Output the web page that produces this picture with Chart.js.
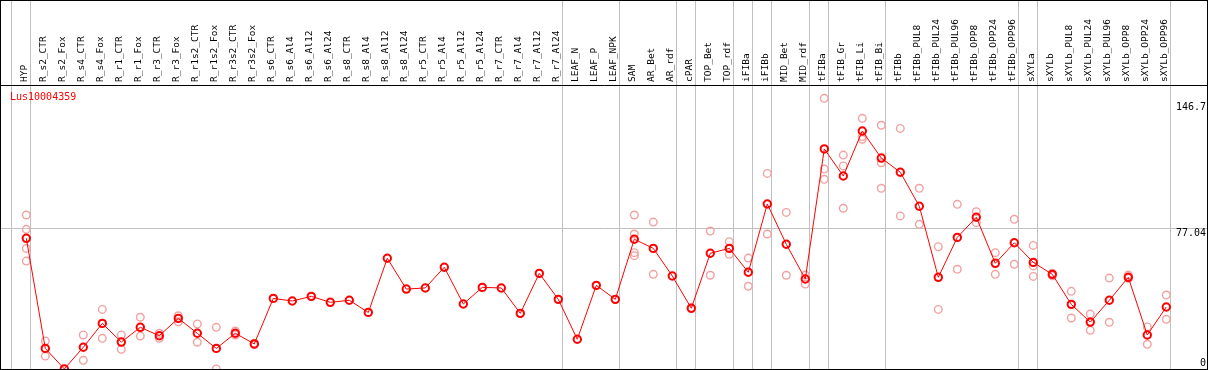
<!DOCTYPE html>
<html>
<head>
<meta charset="utf-8">
<script src="https://cdn.jsdelivr.net/npm/chart.js@4/dist/chart.umd.min.js"></script>
<style>
  html, body { margin: 0; padding: 0; background: #fff; }
  #wrap { width: 1209px; height: 370px; }
</style>
</head>
<body>
<div id="wrap"><canvas id="graph1"></canvas></div>
<script>
var seriesName = "Lus10004359";

var categories = ["HYP", "R_s2_CTR", "R_s2_Fox", "R_s4_CTR", "R_s4_Fox", "R_r1_CTR", "R_r1_Fox",
  "R_r3_CTR", "R_r3_Fox", "R_r1s2_CTR", "R_r1s2_Fox", "R_r3s2_CTR", "R_r3s2_Fox", "R_s6_CTR",
  "R_s6_Al4", "R_s6_Al12", "R_s6_Al24", "R_s8_CTR", "R_s8_Al4", "R_s8_Al12", "R_s8_Al24",
  "R_r5_CTR", "R_r5_Al4", "R_r5_Al12", "R_r5_Al24", "R_r7_CTR", "R_r7_Al4", "R_r7_Al12",
  "R_r7_Al24", "LEAF_N", "LEAF_P", "LEAF_NPK", "SAM", "AR_Bet", "AR_rdf", "cPAR", "TOP_Bet",
  "TOP_rdf", "iFIBa", "iFIBb", "MID_Bet", "MID_rdf", "tFIBa", "tFIB_Gr", "tFIB_Li", "tFIB_Bi",
  "tFIBb", "tFIBb_PUL8", "tFIBb_PUL24", "tFIBb_PUL96", "tFIBb_OPP8", "tFIBb_OPP24", "tFIBb_OPP96",
  "sXYLa", "sXYLb", "sXYLb_PUL8", "sXYLb_PUL24", "sXYLb_PUL96", "sXYLb_OPP8", "sXYLb_OPP24",
  "sXYLb_OPP96"];

// mean expression per sample (line)
var means = [71.7, 12.7, 1.7, 13.3, 26.1, 16.1, 24.0, 19.5, 28.8, 20.8, 12.7, 20.8, 15.1,
  39.5, 38.1, 40.6, 37.4, 38.5, 32.0, 61.0, 44.5, 45.1, 56.2, 36.5, 45.4, 45.1, 31.5, 52.9, 39.0,
  17.6, 46.5, 39.0,
  71.2, 66.3, 51.5, 34.2, 63.7, 66.3, 53.5, 90.1, 68.5, 49.9,
  119.6, 105.1, 129.2, 114.7, 107.1, 88.9, 50.8, 72.2, 83.0, 58.3, 69.3,
  58.8, 52.4, 36.3, 26.8, 38.5, 50.8, 19.9, 34.9];

// single replicates per sample (light circles)
var replicates = [
  [84.2, 76.5, 66.3, 59.5], [16.7, 8.6], [], [19.9, 6.3], [33.6, 18.1], [19.9, 12.2], [29.4, 19.3],
  [18.1, 20.8], [30.2, 27.0], [25.8, 16.0], [24.0, 1.7], [22.0, 19.9], [15.5, 14.7], [],
  [], [], [], [], [], [], [],
  [], [], [], [], [], [], [],
  [], [], [], [],
  [84.2, 74.0, 64.0, 62.4], [80.4, 52.4], [], [34.5, 33.9], [75.6, 51.9], [69.9, 63.1],
  [61.1, 46.0], [106.5, 74.0], [85.6, 51.9], [52.0, 47.2],
  [146.7, 108.8, 103.3], [116.3, 110.5, 87.8], [136.0, 126.2, 124.8], [132.3, 112.2, 98.5],
  [130.6, 83.7], [98.5, 79.2], [67.2, 33.6], [89.9, 55.1], [86.0, 80.1], [64.0, 52.4], [81.9, 57.8],
  [67.9, 56.9, 51.3], [53.0, 51.6], [43.3, 29.0], [31.1, 22.4], [50.4, 26.7], [52.0, 50.3],
  [24.2, 14.9], [41.3, 28.3]
];

// y axis labels, and the one horizontal grid line
var yLabels = [146.7, 77.04, 0];
var yGrid = [77.04];

// group separators: index of the sample a vertical line follows (-1 = before the first)
var groupEnds = [-1, 0, 28, 31, 34, 35, 37, 38, 39, 41, 42, 45, 52, 53, 60];

var meanPoints = means.map(function (v, i) { return { x: i, y: v }; });
var repPoints = [];
replicates.forEach(function (list, i) {
  list.forEach(function (v) { repPoints.push({ x: i, y: v }); });
});

var mono = "'DejaVu Sans Mono', 'Liberation Mono', monospace";

var framePlugin = {
  id: "frame",
  beforeDatasetsDraw: function (chart) {
    var ctx = chart.ctx, a = chart.chartArea, xs = chart.scales.x;
    ctx.save();
    ctx.strokeStyle = "#c0c0c0";
    ctx.lineWidth = 1;
    groupEnds.forEach(function (g) {
      var off = g < 0 ? 0.2 : 0.22;
      var px = Math.round(xs.getPixelForValue(g + off)) + 0.5;
      ctx.beginPath();
      ctx.moveTo(px, 0);
      ctx.lineTo(px, a.bottom);
      ctx.stroke();
    });
    ctx.restore();
  },
  afterDraw: function (chart) {
    var ctx = chart.ctx, a = chart.chartArea, ys = chart.scales.y;
    ctx.save();
    ctx.strokeStyle = "#000";
    ctx.lineWidth = 1;
    ctx.strokeRect(a.left - 0.5, 0.5, a.right - a.left, a.bottom - 1);
    ctx.beginPath();
    ctx.moveTo(a.left, a.top + 0.5);
    ctx.lineTo(a.right, a.top + 0.5);
    ctx.stroke();

    ctx.font = "10px " + mono;
    ctx.fillStyle = "#000";
    ctx.textAlign = "right";
    ctx.textBaseline = "top";
    yLabels.forEach(function (v) {
      var py = ys.getPixelForValue(v);
      py = Math.min(Math.max(py, a.top + 17), a.bottom - 12);
      ctx.fillText(String(v), a.right - 2, py);
    });

    ctx.fillStyle = "#ff0000";
    ctx.textAlign = "left";
    ctx.textBaseline = "middle";
    ctx.fillText(seriesName, a.left + 9, a.top + 12);
    ctx.restore();
  }
};

var graph1 = new Chart("graph1", {
  type: "line",
  data: {
    datasets: [{
      label: seriesName,
      data: meanPoints,
      borderColor: "#ff0000",
      borderWidth: 1,
      backgroundColor: "rgba(0,0,0,0)",
      pointRadius: 3.7,
      pointBorderWidth: 2,
      pointBorderColor: "#ff0000",
      pointBackgroundColor: "rgba(0,0,0,0)",
      fill: false,
      tension: 0
    }, {
      label: "replicates",
      data: repPoints,
      showLine: false,
      pointRadius: 3.8,
      pointBorderWidth: 1.4,
      pointBorderColor: "#f2a0a0",
      pointBackgroundColor: "rgba(0,0,0,0)"
    }]
  },
  options: {
    responsive: true,
    maintainAspectRatio: false,
    animation: false,
    layout: { autoPadding: false, padding: { left: 1, right: 1, top: 0, bottom: 0 } },
    plugins: { legend: { display: false }, tooltip: { enabled: false } },
    scales: {
      x: {
        type: "linear",
        position: "top",
        min: -1.332,
        max: 62.195,
        afterBuildTicks: function (s) {
          s.ticks = categories.map(function (c, i) { return { value: i }; });
        },
        afterFit: function (s) {
          s.height = 85;
          s.paddingLeft = 0;
          s.paddingRight = 0;
        },
        grid: { display: false, drawTicks: false },
        border: { display: false },
        ticks: {
          autoSkip: false,
          minRotation: 90,
          maxRotation: 90,
          padding: 3,
          labelOffset: 10,
          color: "#000",
          font: { family: mono, size: 9.5 },
          callback: function (v) { return categories[v]; }
        }
      },
      y: {
        position: "right",
        min: 1.13,
        max: 153.86,
        afterBuildTicks: function (s) {
          s.ticks = yGrid.map(function (v) { return { value: v }; });
        },
        afterFit: function (s) {
          s.width = 0;
          s.paddingTop = 0;
          s.paddingBottom = 0;
        },
        grid: { color: "#c0c0c0", drawTicks: false },
        border: { display: false },
        ticks: { display: false }
      }
    }
  },
  plugins: [framePlugin]
});
</script>
</body>
</html>
